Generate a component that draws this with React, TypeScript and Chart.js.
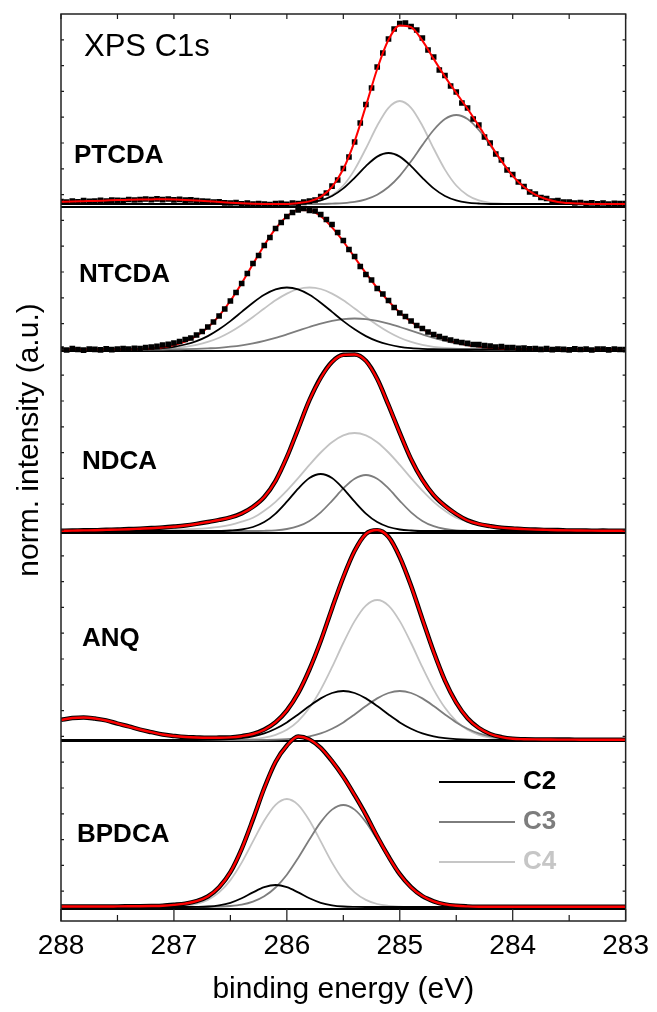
import React, { useEffect, useRef } from 'react';
import { Chart, registerables } from 'chart.js';

Chart.register(...registerables);

const FONT = "'Liberation Sans', Arial, Helvetica, sans-serif";

// ---------- energy grids (eV) ----------
const ENERGY = [
  288.0, 287.9, 287.8, 287.7, 287.6, 287.5, 287.4, 287.3, 287.2, 287.1,
  287.0, 286.9, 286.8, 286.7, 286.6, 286.5, 286.4, 286.3, 286.2, 286.1,
  286.0, 285.9, 285.8, 285.7, 285.6, 285.5, 285.4, 285.3, 285.2, 285.1,
  285.0, 284.9, 284.8, 284.7, 284.6, 284.5, 284.4, 284.3, 284.2, 284.1,
  284.0, 283.9, 283.8, 283.7, 283.6, 283.5, 283.4, 283.3, 283.2, 283.1, 283.0,
];
const ENERGY_FINE = [
  288.0, 287.95, 287.9, 287.85, 287.8, 287.75, 287.7, 287.65, 287.6, 287.55,
  287.5, 287.45, 287.4, 287.35, 287.3, 287.25, 287.2, 287.15, 287.1, 287.05,
  287.0, 286.95, 286.9, 286.85, 286.8, 286.75, 286.7, 286.65, 286.6, 286.55,
  286.5, 286.45, 286.4, 286.35, 286.3, 286.25, 286.2, 286.15, 286.1, 286.05,
  286.0, 285.95, 285.9, 285.85, 285.8, 285.75, 285.7, 285.65, 285.6, 285.55,
  285.5, 285.45, 285.4, 285.35, 285.3, 285.25, 285.2, 285.15, 285.1, 285.05,
  285.0, 284.95, 284.9, 284.85, 284.8, 284.75, 284.7, 284.65, 284.6, 284.55,
  284.5, 284.45, 284.4, 284.35, 284.3, 284.25, 284.2, 284.15, 284.1, 284.05,
  284.0, 283.95, 283.9, 283.85, 283.8, 283.75, 283.7, 283.65, 283.6, 283.55,
  283.5, 283.45, 283.4, 283.35, 283.3, 283.25, 283.2, 283.15, 283.1, 283.05, 283.0,
];

// ---------- PTCDA ----------
const PTCDA_MEASURED = [
  0.25, 0.2, 0.3, 0.22, 0.33, 0.26, 0.28, 0.36, 0.3, 0.38,
  0.37, 0.33, 0.45, 0.4, 0.44, 0.5, 0.43, 0.52, 0.44, 0.5,
  0.42, 0.47, 0.38, 0.42, 0.33, 0.3, 0.26, 0.18, 0.22, 0.12,
  0.1, 0.14, 0.02, 0.08, -0.02, 0.05, 0.0, -0.05, 0.03, 0.06,
  -0.03, 0.1, 0.05, 0.2, 0.28, 0.4, 0.75, 1.1, 1.78, 2.4,
  3.55, 4.7, 6.2, 8.1, 9.95, 11.6, 13.7, 15.1, 16.5, 17.5,
  18.05, 18.1, 17.75, 17.4, 16.6, 15.4, 14.7, 13.4, 12.85, 11.8,
  11.2, 10.1, 9.6, 8.5, 7.9, 6.7, 6.1, 5.0, 4.4, 3.4,
  2.95, 2.2, 1.75, 1.2, 1.0, 0.65, 0.55, 0.3, 0.35, 0.18,
  0.2, 0.1, 0.15, 0.05, 0.12, 0.02, 0.1, -0.02, 0.06, 0.03, 0.05,
];
const PTCDA_FIT = [
  0.23, 0.25, 0.28, 0.31, 0.35, 0.39, 0.42, 0.45, 0.46, 0.47,
  0.45, 0.41, 0.35, 0.28, 0.2, 0.13, 0.07, 0.03, 0.01, 0, 0,
  0.09, 0.26, 0.72, 1.72, 3.5, 6.27, 9.81, 13.5, 16.42, 17.86,
  17.68, 16.34, 14.51, 12.74, 11.11, 9.52, 7.81, 6.01, 4.31, 2.82,
  1.7, 0.93, 0.47, 0.21, 0.09, 0.04, 0, 0, 0, 0,
];
const PTCDA_C2 = [
  0, 0, 0, 0, 0, 0, 0, 0, 0, 0, 0, 0, 0, 0, 0, 0, 0, 0, 0, 0, 0,
  0.05, 0.14, 0.36, 0.8, 1.56, 2.62, 3.79, 4.74, 5.1, 4.74, 3.79, 2.62, 1.56, 0.8, 0.36, 0.14, 0.05,
  0, 0, 0, 0, 0, 0, 0, 0, 0, 0, 0, 0, 0,
];
const PTCDA_C3 = [
  0, 0, 0, 0, 0, 0, 0, 0, 0, 0, 0, 0, 0, 0, 0, 0, 0, 0, 0, 0, 0, 0, 0, 0,
  0.04, 0.09, 0.21, 0.47, 0.93, 1.7, 2.82, 4.27, 5.89, 7.4, 8.5, 8.9, 8.5, 7.4, 5.89, 4.27, 2.82, 1.7, 0.93, 0.47, 0.21, 0.09, 0.04,
  0, 0, 0, 0,
];
const PTCDA_C4 = [
  0, 0, 0, 0, 0, 0, 0, 0, 0, 0, 0, 0, 0, 0, 0, 0, 0, 0, 0, 0, 0,
  0.04, 0.12, 0.36, 0.88, 1.85, 3.44, 5.55, 7.83, 9.62, 10.3, 9.62, 7.83, 5.55, 3.44, 1.85, 0.88, 0.36, 0.12, 0.04,
  0, 0, 0, 0, 0, 0, 0, 0, 0, 0, 0,
];

// ---------- NTCDA ----------
const NTCDA_MEASURED = [
  0.05, -0.05, 0.08, 0, -0.06, 0.04, 0.02, -0.04, 0.06, -0.02,
  0.03, 0.08, 0.05, 0.12, 0.1, 0.2, 0.25, 0.32, 0.45, 0.52,
  0.65, 0.8, 1.0, 1.15, 1.45, 1.8, 2.25, 2.75, 3.35, 4.05,
  4.85, 5.7, 6.6, 7.6, 8.6, 9.4, 10.4, 11.2, 12.1, 12.7,
  13.3, 13.7, 13.95, 14.1, 13.9, 13.85, 13.5, 13.0, 12.5, 11.7,
  10.9, 10.0, 9.3, 8.3, 7.5, 6.95, 6.1, 5.55, 4.9, 4.2,
  3.65, 3.3, 2.85, 2.4, 2.1, 1.75, 1.5, 1.3, 1.1, 0.95,
  0.8, 0.7, 0.62, 0.5, 0.48, 0.38, 0.35, 0.25, 0.28, 0.18,
  0.2, 0.12, 0.14, 0.06, 0.1, 0.02, 0.08, -0.02, 0.05, 0.02,
  -0.04, 0.06, 0, 0.04, -0.05, 0.03, 0.05, -0.03, 0.04, 0, -0.02,
];
const NTCDA_FIT = [
  0, 0, 0, 0, 0, 0,
  0.01, 0.05, 0.11, 0.22, 0.44, 0.8, 1.37, 2.21, 3.37, 4.87,
  6.63, 8.54, 10.43, 12.09, 13.3, 13.94, 13.92, 13.32, 12.21, 10.8,
  9.22, 7.63, 6.15, 4.84, 3.7, 2.78, 2.05, 1.46, 1.02, 0.69,
  0.46, 0.3, 0.17, 0.11, 0.06, 0.03, 0.02,
  0, 0, 0, 0, 0, 0, 0, 0,
];
const NTCDA_C2 = [
  0, 0, 0, 0, 0, 0,
  0.01, 0.03, 0.07, 0.14, 0.27, 0.5, 0.84, 1.34, 2.02, 2.84, 3.76, 4.68, 5.47, 6.01, 6.2,
  6.01, 5.47, 4.68, 3.76, 2.84, 2.02, 1.34, 0.84, 0.5, 0.27, 0.14, 0.07, 0.03, 0.01,
  0, 0, 0, 0, 0, 0, 0, 0, 0, 0, 0, 0, 0, 0, 0, 0,
];
const NTCDA_C3 = [
  0, 0, 0, 0, 0, 0, 0, 0, 0, 0,
  0.02, 0.03, 0.06, 0.11, 0.17, 0.28, 0.42, 0.61, 0.86, 1.16, 1.51, 1.88, 2.25, 2.59, 2.86, 3.04, 3.1,
  3.04, 2.86, 2.59, 2.25, 1.88, 1.51, 1.16, 0.86, 0.61, 0.42, 0.28, 0.17, 0.11, 0.06, 0.03, 0.02,
  0, 0, 0, 0, 0, 0, 0, 0,
];
const NTCDA_C4 = [
  0, 0, 0, 0, 0, 0, 0,
  0.02, 0.04, 0.08, 0.15, 0.27, 0.47, 0.76, 1.18, 1.75, 2.45, 3.25, 4.1, 4.92, 5.59, 6.05, 6.2,
  6.05, 5.59, 4.92, 4.1, 3.25, 2.45, 1.75, 1.18, 0.76, 0.47, 0.27, 0.15, 0.08, 0.04, 0.02,
  0, 0, 0, 0, 0, 0, 0, 0, 0, 0, 0, 0, 0,
];

// ---------- NDCA ----------
const NDCA_MEASURED = [
  0.03, 0.04, 0.07, 0.08, 0.12, 0.14, 0.19, 0.23, 0.29, 0.35,
  0.44, 0.55, 0.71, 0.9, 1.11, 1.36, 1.76, 2.42, 3.4, 5.02,
  7.38, 10.22, 13.08, 15.35, 16.92, 17.62, 17.66, 17.02, 15.22, 12.58,
  9.82, 7.18, 5.12, 3.58, 2.52, 1.69, 1.06, 0.69, 0.49, 0.33,
  0.26, 0.18, 0.15, 0.1, 0.09, 0.05, 0.06, 0.03, 0.04, 0.02, 0.02,
];
const NDCA_FIT = [
  0.02, 0.04, 0.06, 0.08, 0.11, 0.14, 0.18, 0.23, 0.28, 0.35,
  0.43, 0.55, 0.7, 0.9, 1.1, 1.35, 1.75, 2.4, 3.4, 5.0,
  7.4, 10.2, 13.1, 15.3, 16.9, 17.6, 17.65, 17.0, 15.2, 12.6,
  9.8, 7.2, 5.1, 3.6, 2.5, 1.7, 1.05, 0.7, 0.48, 0.34,
  0.25, 0.19, 0.14, 0.11, 0.08, 0.06, 0.05, 0.04, 0.03, 0.02, 0.02,
];
const NDCA_C2 = [
  0, 0, 0, 0, 0, 0, 0, 0, 0, 0, 0, 0, 0, 0, 0,
  0.05, 0.15, 0.4, 0.89, 1.74, 2.93, 4.24, 5.3, 5.7, 5.3, 4.24, 2.93, 1.74, 0.89, 0.4, 0.15, 0.05,
  0, 0, 0, 0, 0, 0, 0, 0, 0, 0, 0, 0, 0, 0, 0, 0, 0, 0, 0,
];
const NDCA_C3 = [
  0, 0, 0, 0, 0, 0, 0, 0, 0, 0, 0, 0, 0, 0, 0, 0, 0, 0,
  0.02, 0.07, 0.2, 0.48, 1.01, 1.87, 3.02, 4.26, 5.23, 5.6, 5.23, 4.26, 3.02, 1.87, 1.01, 0.48, 0.2, 0.07, 0.02,
  0, 0, 0, 0, 0, 0, 0, 0, 0, 0, 0, 0, 0, 0,
];
const NDCA_C4 = [
  0.04, 0.04, 0.05, 0.05, 0.06, 0.06, 0.07, 0.08, 0.09, 0.1,
  0.11, 0.16, 0.21, 0.29, 0.41, 0.61, 0.93, 1.32, 2.02, 2.92,
  4.03, 5.28, 6.61, 7.85, 8.88, 9.56, 9.8, 9.56, 8.88, 7.85,
  6.61, 5.28, 4.03, 2.92, 2.02, 1.32, 0.93, 0.61, 0.41, 0.29,
  0.21, 0.16, 0.11, 0.1, 0.09, 0.08, 0.07, 0.06, 0.06, 0.05, 0.05,
];

// ---------- ANQ ----------
const ANQ_MEASURED = [
  2.02, 2.19, 2.26, 2.14, 1.96, 1.64, 1.36, 1.04, 0.79, 0.55,
  0.41, 0.3, 0.26, 0.23, 0.24, 0.26, 0.39, 0.6, 1.04, 1.77,
  2.95, 4.68, 7.05, 9.9, 13.16, 16.28, 18.92, 20.62, 20.98, 20.32,
  18.28, 15.42, 12.08, 8.82, 5.94, 3.74, 2.17, 1.2, 0.6, 0.29,
  0.12, 0.08, 0.06, 0.05, 0.04, 0.04, 0.03, 0.03, 0.02, 0.02, 0.02,
];
const ANQ_FIT = [
  2.0, 2.2, 2.25, 2.15, 1.95, 1.65, 1.35, 1.05, 0.78, 0.55,
  0.4, 0.3, 0.25, 0.23, 0.23, 0.26, 0.38, 0.6, 1.03, 1.78,
  2.94, 4.69, 7.04, 9.91, 13.15, 16.3, 18.9, 20.6, 21.0, 20.3,
  18.3, 15.4, 12.1, 8.8, 5.95, 3.73, 2.18, 1.19, 0.6, 0.28,
  0.12, 0.08, 0.06, 0.05, 0.04, 0.04, 0.03, 0.03, 0.02, 0.02, 0.02,
];
const ANQ_C2 = [
  0, 0, 0, 0, 0, 0, 0, 0, 0, 0, 0, 0, 0,
  0.01, 0.03, 0.08, 0.18, 0.36, 0.66, 1.13, 1.76, 2.55, 3.4, 4.16, 4.7, 4.9,
  4.7, 4.16, 3.4, 2.55, 1.76, 1.13, 0.66, 0.36, 0.18, 0.08, 0.03, 0.01,
  0, 0, 0, 0, 0, 0, 0, 0, 0, 0, 0, 0, 0,
];
const ANQ_C3 = [
  0, 0, 0, 0, 0, 0, 0, 0, 0, 0, 0, 0, 0, 0, 0, 0, 0, 0,
  0.01, 0.03, 0.08, 0.18, 0.36, 0.66, 1.13, 1.76, 2.55, 3.4, 4.16, 4.7, 4.9,
  4.7, 4.16, 3.4, 2.55, 1.76, 1.13, 0.66, 0.36, 0.18, 0.08, 0.03, 0.01,
  0, 0, 0, 0, 0, 0, 0, 0,
];
const ANQ_C4 = [
  0, 0, 0, 0, 0, 0, 0, 0, 0, 0, 0, 0, 0, 0, 0, 0,
  0.04, 0.1, 0.24, 0.52, 1.02, 1.89, 3.22, 5.04, 7.28, 9.7, 11.89, 13.44, 14.0,
  13.44, 11.89, 9.7, 7.28, 5.04, 3.22, 1.89, 1.02, 0.52, 0.24, 0.1, 0.04,
  0, 0, 0, 0, 0, 0, 0, 0, 0, 0,
];

// ---------- BPDCA ----------
const BPDCA_MEASURED = [
  0.05, 0.05, 0.06, 0.05, 0.06, 0.06, 0.07, 0.08, 0.1, 0.13,
  0.22, 0.34, 0.59, 1.05, 1.98, 3.48, 5.82, 8.76, 11.9, 14.5,
  16.15, 17.06, 16.76, 15.92, 14.58, 13.02, 11.18, 9.22, 7.05, 5.06,
  3.28, 1.98, 1.08, 0.57, 0.26, 0.12, 0.06, 0.03, 0.02, 0.02,
  0.02, 0.03, 0.02, 0.02, 0.02, 0.02, 0.02, 0.03, 0.02, 0.02, 0.02,
];
const BPDCA_FIT = [
  0.05, 0.05, 0.05, 0.05, 0.05, 0.06, 0.07, 0.08, 0.1, 0.13,
  0.21, 0.34, 0.58, 1.06, 1.97, 3.49, 5.8, 8.78, 11.88, 14.52,
  16.13, 17.05, 16.75, 15.9, 14.6, 13.0, 11.2, 9.2, 7.07, 5.04,
  3.29, 1.97, 1.09, 0.56, 0.26, 0.12, 0.06, 0.03, 0.02, 0.02,
  0.02, 0.02, 0.02, 0.02, 0.02, 0.02, 0.02, 0.02, 0.02, 0.02, 0.02,
];
const BPDCA_C2 = [
  0, 0, 0, 0, 0, 0, 0, 0, 0, 0, 0, 0,
  0.01, 0.05, 0.17, 0.42, 0.87, 1.46, 1.98, 2.2, 1.98, 1.46, 0.87, 0.42, 0.17, 0.05, 0.01,
  0, 0, 0, 0, 0, 0, 0, 0, 0, 0, 0, 0, 0, 0, 0, 0, 0, 0, 0, 0, 0, 0, 0, 0,
];
const BPDCA_C3 = [
  0, 0, 0, 0, 0, 0, 0, 0, 0, 0, 0, 0, 0, 0,
  0.04, 0.1, 0.24, 0.54, 1.07, 1.95, 3.23, 4.9, 6.75, 8.49, 9.74, 10.2,
  9.74, 8.49, 6.75, 4.9, 3.23, 1.95, 1.07, 0.54, 0.24, 0.1, 0.04,
  0, 0, 0, 0, 0, 0, 0, 0, 0, 0, 0, 0, 0, 0,
];
const BPDCA_C4 = [
  0, 0, 0, 0, 0, 0, 0, 0, 0, 0,
  0.04, 0.12, 0.3, 0.71, 1.46, 2.69, 4.44, 6.56, 8.65, 10.22, 10.8,
  10.22, 8.65, 6.56, 4.44, 2.69, 1.46, 0.71, 0.3, 0.12, 0.04,
  0, 0, 0, 0, 0, 0, 0, 0, 0, 0, 0, 0, 0, 0, 0, 0, 0, 0, 0, 0,
];

// ---------- panel layout (offsets in axis units) ----------
const PANEL_NAMES = ['PTCDA', 'NTCDA', 'NDCA', 'ANQ', 'BPDCA'];
const PANEL_BASELINES = [71.7, 57.15, 39.0, 18.1, 1.4];
const PANEL_SEPARATORS = [71.4, 57.0, 38.8, 18.0, 1.2];
const PANEL_LABEL_LEVELS = [4.8, 7.45, 6.9, 10.1, 7.2];
const PANEL_LABEL_INDENT = [13, 18, 21, 21, 16];

const X_MAJOR_TICKS = [288, 287, 286, 285, 284, 283];
const X_MINOR_TICKS = [287.5, 286.5, 285.5, 284.5, 283.5];
const Y_MAX = 90.7;
const Y_TICK_STEP = 2.58;

const LEGEND_LABELS = ['C2', 'C3', 'C4'];
const COLOR_C2 = '#000000';
const COLOR_C3 = '#7d7d7d';
const COLOR_C4 = '#c3c3c3';
const COLOR_FIT = '#ff0000';
const LEGEND_COLORS = [COLOR_C2, COLOR_C3, '#c6c6c6'];

const PANELS = [
  { measured: PTCDA_MEASURED, fine: true, fit: PTCDA_FIT, c2: PTCDA_C2, c3: PTCDA_C3, c4: PTCDA_C4, fitOnTop: true },
  { measured: NTCDA_MEASURED, fine: true, fit: NTCDA_FIT, c2: NTCDA_C2, c3: NTCDA_C3, c4: NTCDA_C4, fitOnTop: false },
  { measured: NDCA_MEASURED, fine: false, fit: NDCA_FIT, c2: NDCA_C2, c3: NDCA_C3, c4: NDCA_C4, fitOnTop: true },
  { measured: ANQ_MEASURED, fine: false, fit: ANQ_FIT, c2: ANQ_C2, c3: ANQ_C3, c4: ANQ_C4, fitOnTop: true },
  { measured: BPDCA_MEASURED, fine: false, fit: BPDCA_FIT, c2: BPDCA_C2, c3: BPDCA_C3, c4: BPDCA_C4, fitOnTop: true },
];

function toPoints(xs: number[], vs: number[], base: number) {
  return vs.map((v, i) => ({ x: xs[i], y: base + v }));
}

function buildDatasets() {
  const sets: any[] = [];
  PANELS.forEach((p, k) => {
    const base = PANEL_BASELINES[k];
    sets.push({
      data: [{ x: 288, y: PANEL_SEPARATORS[k] }, { x: 283, y: PANEL_SEPARATORS[k] }],
      borderColor: '#000', borderWidth: 2, pointRadius: 0, order: 100,
    });
    const curve = (vals: number[], color: string, width: number, order: number) => ({
      data: toPoints(ENERGY, vals, base),
      borderColor: color, borderWidth: width, pointRadius: 0,
      cubicInterpolationMode: 'monotone', order,
    });
    sets.push(curve(p.c4, COLOR_C4, 1.8, 60));
    sets.push(curve(p.c3, COLOR_C3, 1.8, 59));
    sets.push(curve(p.c2, COLOR_C2, 1.8, 58));
    if (p.fine) {
      sets.push({
        data: toPoints(ENERGY_FINE, p.measured, base),
        showLine: false, pointStyle: 'rect', pointRadius: 4,
        pointBackgroundColor: '#000', pointBorderWidth: 0, order: 30,
      });
    } else {
      sets.push({
        data: toPoints(ENERGY, p.measured, base),
        borderColor: '#000', borderWidth: 4.5, pointRadius: 0,
        cubicInterpolationMode: 'monotone', order: 30,
      });
    }
    sets.push({ ...curve(p.fit, COLOR_FIT, p.fine ? 2 : 2.4, p.fitOnTop ? 20 : 40) });
  });
  return sets;
}

const decorPlugin = {
  id: 'decor',
  afterDraw(chart: any) {
    const { ctx, chartArea: a, scales } = chart;
    const xs = scales.x;
    const ys = scales.y;
    ctx.save();
    ctx.strokeStyle = '#1a1a1a';
    ctx.lineWidth = 1.2;
    ctx.beginPath();
    X_MAJOR_TICKS.forEach((v) => {
      const px = xs.getPixelForValue(v);
      ctx.moveTo(px, a.bottom); ctx.lineTo(px, a.bottom - 12);
      ctx.moveTo(px, a.top); ctx.lineTo(px, a.top + 5);
    });
    X_MINOR_TICKS.forEach((v) => {
      const px = xs.getPixelForValue(v);
      ctx.moveTo(px, a.bottom); ctx.lineTo(px, a.bottom - 6);
      ctx.moveTo(px, a.top); ctx.lineTo(px, a.top + 5);
    });
    ys.ticks.forEach((t: any) => {
      const py = ys.getPixelForValue(t.value);
      ctx.moveTo(a.left, py); ctx.lineTo(a.left + 3, py);
      ctx.moveTo(a.right, py); ctx.lineTo(a.right - 3, py);
    });
    ctx.stroke();
    ctx.lineWidth = 1.5;
    ctx.strokeStyle = '#222';
    ctx.strokeRect(a.left, a.top, a.right - a.left, a.bottom - a.top);

    ctx.textBaseline = 'middle';
    ctx.textAlign = 'left';
    ctx.fillStyle = '#000';
    ctx.font = `31px ${FONT}`;
    ctx.fillText('XPS C1s', a.left + 23, a.top + 33);

    ctx.font = `bold 26px ${FONT}`;
    PANEL_NAMES.forEach((n, k) => {
      const py = ys.getPixelForValue(PANEL_BASELINES[k] + PANEL_LABEL_LEVELS[k]);
      ctx.fillText(n, a.left + PANEL_LABEL_INDENT[k], py);
    });

    LEGEND_LABELS.forEach((lab, k) => {
      const ly = a.top + 768 + k * 40;
      ctx.strokeStyle = LEGEND_COLORS[k];
      ctx.lineWidth = 2;
      ctx.beginPath();
      ctx.moveTo(a.left + 378, ly);
      ctx.lineTo(a.left + 454, ly);
      ctx.stroke();
      ctx.fillStyle = LEGEND_COLORS[k];
      ctx.fillText(lab, a.left + 462, ly);
    });

    ctx.save();
    ctx.translate(30, 440);
    ctx.rotate(-Math.PI / 2);
    ctx.textAlign = 'center';
    ctx.fillStyle = '#000';
    ctx.font = `30px ${FONT}`;
    ctx.fillText('norm. intensity (a.u.)', 0, 0);
    ctx.restore();
    ctx.restore();
  },
};

export default function App() {
  const ref = useRef<HTMLCanvasElement>(null);
  useEffect(() => {
    const canvas = ref.current;
    if (!canvas) return;
    const chart = new Chart(canvas, {
      type: 'line',
      data: { datasets: buildDatasets() },
      options: {
        responsive: false,
        devicePixelRatio: 1,
        animation: false,
        layout: { padding: { top: 14, right: 27, left: 0, bottom: 0 } },
        plugins: { legend: { display: false }, tooltip: { enabled: false } },
        scales: {
          x: {
            type: 'linear', min: 283, max: 288, reverse: true, position: 'bottom',
            grid: { display: false, drawTicks: false },
            border: { display: false },
            ticks: {
              stepSize: 1, autoSkip: false, maxRotation: 0, padding: 8,
              color: '#000', font: { size: 28, family: FONT },
            },
            title: {
              display: true, text: 'binding energy (eV)', color: '#000',
              font: { size: 30, family: FONT }, padding: { top: 0, bottom: 4 },
            },
            afterFit: (s: any) => { s.height = 91; },
          },
          y: {
            type: 'linear', min: 0, max: Y_MAX,
            grid: { display: false, drawTicks: false },
            border: { display: false },
            ticks: { display: false },
            afterBuildTicks: (s: any) => {
              const t: any[] = [];
              for (let v = Y_MAX - Y_TICK_STEP; v > 0.5; v -= Y_TICK_STEP) t.push({ value: v });
              s.ticks = t;
            },
            afterFit: (s: any) => { s.width = 61; },
          },
        },
      } as any,
      plugins: [decorPlugin],
    });
    return () => chart.destroy();
  }, []);
  return (
    <div style={{ position: 'absolute', left: 0, top: 0, width: 657, height: 1012, background: '#fff' }}>
      <canvas ref={ref} width={657} height={1012} style={{ display: 'block', width: 657, height: 1012 }} />
    </div>
  );
}
